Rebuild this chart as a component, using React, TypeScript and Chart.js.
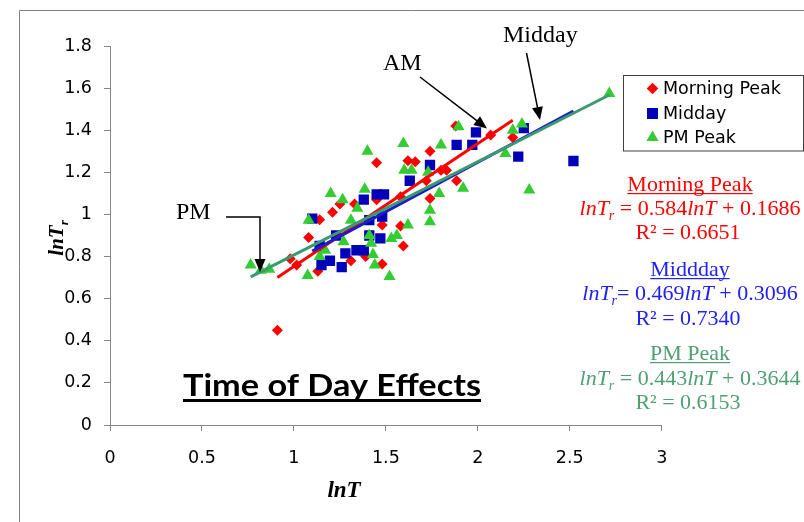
import React, { useEffect, useRef } from "react";
import { Chart, registerables } from "chart.js";
import { drawPoint } from "chart.js/helpers";

Chart.register(...registerables);

// ---- data ----
const morningX = [0.91, 0.98, 1.015, 1.08, 1.13, 1.14, 1.21, 1.25, 1.31, 1.33, 1.39, 1.45, 1.45, 1.48, 1.48, 1.58, 1.58, 1.595, 1.62, 1.66, 1.72, 1.74, 1.74, 1.8, 1.83, 1.885, 1.88, 2.07, 2.19];
const morningY = [0.45, 0.79, 0.76, 0.89, 0.73, 0.975, 1.01, 1.05, 0.78, 1.05, 0.8, 1.245, 1.07, 0.95, 0.765, 1.084, 0.945, 0.85, 1.255, 1.25, 1.16, 1.076, 1.3, 1.21, 1.21, 1.16, 1.42, 1.377, 1.366];

const middayX = [1.1, 1.14, 1.15, 1.196, 1.23, 1.26, 1.28, 1.34, 1.38, 1.38, 1.41, 1.41, 1.45, 1.49, 1.47, 1.48, 1.63, 1.74, 1.885, 1.97, 1.99, 2.22, 2.25, 2.52];
const middayY = [0.98, 0.85, 0.76, 0.78, 0.9, 0.75, 0.815, 0.83, 1.07, 0.83, 0.973, 0.9, 1.095, 1.095, 0.886, 0.99, 1.16, 1.235, 1.33, 1.33, 1.39, 1.275, 1.41, 1.254];

const pmX = [0.765, 0.82, 0.866, 1.075, 1.08, 1.14, 1.17, 1.2, 1.265, 1.27, 1.31, 1.345, 1.385, 1.4, 1.41, 1.42, 1.43, 1.44, 1.52, 1.53, 1.56, 1.595, 1.6, 1.64, 1.62, 1.73, 1.74, 1.74, 1.79, 1.8, 1.895, 1.92, 2.15, 2.19, 2.24, 2.28, 2.715];
const pmY = [0.76, 0.735, 0.74, 0.71, 0.973, 0.8, 0.83, 1.1, 1.07, 0.87, 0.973, 1.03, 1.12, 1.3, 0.9, 0.863, 0.81, 0.76, 0.705, 0.886, 0.9, 1.337, 1.21, 1.21, 0.95, 1.2, 1.02, 0.965, 1.1, 1.33, 1.416, 1.124, 1.29, 1.4, 1.43, 1.116, 1.575];

const seriesNames = ["Morning Peak", "Midday", "PM Peak"];
const eqTitles = ["Morning Peak", "Middday", "PM Peak"];
const trendSlopes = [0.584, 0.469, 0.443];
const trendIntercepts = [0.1686, 0.3096, 0.3644];
const slopeText = ["0.584", "0.469", "0.443"];
const interceptText = ["0.1686", "0.3096", "0.3644"];
const r2Text = ["0.6651", "0.7340", "0.6153"];
const trendXRange = [
  [0.91, 2.19],
  [1.1, 2.52],
  [0.765, 2.715],
];

const X_MIN = 0, X_MAX = 3, X_STEP = 0.5;
const Y_MIN = 0, Y_MAX = 1.8, Y_STEP = 0.2;

// ---- styles ----
const RED = "#ff0000";
const BLUE_PT = "#0000b8";
const GREEN_PT = "#33cc33";
const BLUE_LINE = "#1c1cc8";
const GREEN_LINE = "#3a9a70";
const EQ_COLORS = ["#ff0000", "#2222ee", "#4f9f73"];
const AXIS_GRAY = "#868686";
const SERIF = '"Liberation Serif", "Times New Roman", serif';

const zip = (xs: number[], ys: number[]) => xs.map((x, i) => ({ x, y: ys[i] }));
const trendPts = (i: number) =>
  trendXRange[i].map((x) => ({ x, y: trendSlopes[i] * x + trendIntercepts[i] }));

function drawArrowHead(ctx: CanvasRenderingContext2D, fx: number, fy: number, tx: number, ty: number) {
  const ang = Math.atan2(ty - fy, tx - fx);
  const len = 13, half = 5.5;
  ctx.beginPath();
  ctx.moveTo(tx, ty);
  ctx.lineTo(tx - len * Math.cos(ang) + half * Math.sin(ang), ty - len * Math.sin(ang) - half * Math.cos(ang));
  ctx.lineTo(tx - len * Math.cos(ang) - half * Math.sin(ang), ty - len * Math.sin(ang) + half * Math.cos(ang));
  ctx.closePath();
  ctx.fill();
}

function arrow(ctx: CanvasRenderingContext2D, pts: number[][]) {
  ctx.strokeStyle = "#000";
  ctx.fillStyle = "#000";
  ctx.lineWidth = 1.5;
  ctx.beginPath();
  ctx.moveTo(pts[0][0], pts[0][1]);
  const n = pts.length;
  const [fx, fy] = pts[n - 2];
  const [tx, ty] = pts[n - 1];
  const ang = Math.atan2(ty - fy, tx - fx);
  for (let i = 1; i < n - 1; i++) ctx.lineTo(pts[i][0], pts[i][1]);
  ctx.lineTo(tx - 10 * Math.cos(ang), ty - 10 * Math.sin(ang));
  ctx.stroke();
  drawArrowHead(ctx, fx, fy, tx, ty);
}

type Seg = { t: string; it?: boolean; sub?: boolean; bold?: boolean };

function drawRich(ctx: CanvasRenderingContext2D, segs: Seg[], x: number, baseline: number, size: number, align: "center" | "left") {
  const fontFor = (s: Seg) =>
    `${s.it ? "italic " : ""}${s.bold ? "bold " : ""}${s.sub ? Math.round(size * 0.62) : size}px ${SERIF}`;
  let total = 0;
  segs.forEach((s) => {
    ctx.font = fontFor(s);
    total += ctx.measureText(s.t).width;
  });
  let cx = align === "center" ? x - total / 2 : x;
  ctx.textAlign = "left";
  ctx.textBaseline = "alphabetic";
  segs.forEach((s) => {
    ctx.font = fontFor(s);
    ctx.fillText(s.t, cx, baseline + (s.sub ? size * 0.22 : 0));
    cx += ctx.measureText(s.t).width;
  });
  return total;
}

const overlay = {
  id: "overlay",
  afterDraw(chart: any) {
    const ctx: CanvasRenderingContext2D = chart.ctx;
    ctx.save();

    // outer frame (top + left visible)
    ctx.strokeStyle = "#808080";
    ctx.lineWidth = 1;
    ctx.beginPath();
    ctx.moveTo(19.5, 522);
    ctx.lineTo(19.5, 10.5);
    ctx.lineTo(804, 10.5);
    ctx.stroke();

    // legend
    ctx.strokeStyle = "#404040";
    ctx.lineWidth = 1;
    ctx.strokeRect(623.5, 75.5, 180, 75.5);
    const legendY = [88.5, 113.5, 137.5];
    const pointSets = chart.data.datasets.filter((d: any) => !d.showLine);
    seriesNames.forEach((name, i) => {
      const ds = pointSets.find((d: any) => d.label === name);
      ctx.fillStyle = ds.pointBackgroundColor;
      drawPoint(ctx, { pointStyle: ds.pointStyle, radius: ds.legendRadius, rotation: 0, borderWidth: 0 } as any, 652.5, legendY[i]);
      ctx.fillStyle = "#000";
      ctx.font = '17.5px "DejaVu Sans"';
      ctx.textAlign = "left";
      ctx.textBaseline = "middle";
      ctx.fillText(name, 663, legendY[i] + 1);
    });

    // annotations
    ctx.fillStyle = "#000";
    ctx.font = `24px ${SERIF}`;
    ctx.textAlign = "left";
    ctx.textBaseline = "alphabetic";
    ctx.fillText("Midday", 503, 42);
    ctx.fillText("AM", 383, 70);
    ctx.fillText("PM", 176, 219);
    arrow(ctx, [[526.5, 53], [540, 120]]);
    arrow(ctx, [[420, 77], [487, 128.5]]);
    arrow(ctx, [[226, 217], [260, 217], [260, 272]]);

    // Title
    ctx.save();
    ctx.font = 'bold 31px Lato';
    const tw = ctx.measureText("Time of Day Effects").width;
    const sx = 298 / tw;
    ctx.translate(183, 396);
    ctx.scale(sx, 1);
    ctx.fillStyle = "#000";
    ctx.fillText("Time of Day Effects", 0, 0);
    ctx.restore();
    ctx.fillRect(183, 399, 298, 3);

    // equations
    const base = [
      [191, 215, 239],
      [276, 300, 325],
      [360, 385, 409],
    ];
    const eqs = [" = ", "= ", " = "];
    for (let i = 0; i < 3; i++) {
      const col = EQ_COLORS[i];
      ctx.fillStyle = col;
      ctx.strokeStyle = col;
      const w = drawRich(ctx, [{ t: eqTitles[i] }], 690, base[i][0], 22, "center");
      ctx.fillRect(690 - w / 2, base[i][0] + 2, w, 1.2);
      drawRich(
        ctx,
        [
          { t: "lnT", it: true },
          { t: "r", it: true, sub: true },
          { t: eqs[i] + slopeText[i] },
          { t: "lnT", it: true },
          { t: " + " + interceptText[i] },
        ],
        690,
        base[i][1],
        22,
        "center"
      );
      drawRich(ctx, [{ t: "R\u00B2 = " + r2Text[i] }], 688, base[i][2], 22, "center");
    }

    // axis titles
    ctx.fillStyle = "#000";
    drawRich(ctx, [{ t: "lnT", it: true, bold: true }], 344, 496.5, 23, "center");
    ctx.save();
    ctx.translate(63, 238);
    ctx.rotate(-Math.PI / 2);
    drawRich(ctx, [{ t: "lnT", it: true, bold: true }, { t: "r", it: true, bold: true, sub: true }], 0, 0, 21, "center");
    ctx.restore();

    ctx.restore();
  },
};

export default function App() {
  const ref = useRef<HTMLCanvasElement | null>(null);
  useEffect(() => {
    if (!ref.current) return;
    const fmt = (v: any) => String(Math.round(Number(v) * 10) / 10);
    const tickFont = { family: "DejaVu Sans", size: 17.5 };
    const chart = new Chart(ref.current, {
      type: "scatter",
      data: {
        datasets: [
          { label: "PM trend", data: trendPts(2), showLine: true, borderColor: GREEN_LINE, borderWidth: 3, pointRadius: 0, pointHoverRadius: 0, fill: false },
          { label: "Midday trend", data: trendPts(1), showLine: true, borderColor: BLUE_LINE, borderWidth: 3, pointRadius: 0, pointHoverRadius: 0, fill: false },
          { label: "Morning trend", data: trendPts(0), showLine: true, borderColor: RED, borderWidth: 3, pointRadius: 0, pointHoverRadius: 0, fill: false },
          { label: seriesNames[2], data: zip(pmX, pmY), pointStyle: "triangle", pointRadius: 7, pointBackgroundColor: GREEN_PT, pointBorderWidth: 0, legendRadius: 7 } as any,
          { label: seriesNames[1], data: zip(middayX, middayY), pointStyle: "rect", pointRadius: 7.3, pointBackgroundColor: BLUE_PT, pointBorderWidth: 0, legendRadius: 7.8 } as any,
          { label: seriesNames[0], data: zip(morningX, morningY), pointStyle: "rectRot", pointRadius: 5.5, pointBackgroundColor: RED, pointBorderWidth: 0, legendRadius: 5.8 } as any,
        ],
      },
      options: {
        animation: false,
        responsive: false,
        devicePixelRatio: 1,
        events: [],
        layout: { padding: { left: 0, right: 142.3, top: 46, bottom: 0 } },
        plugins: { legend: { display: false }, tooltip: { enabled: false }, title: { display: false } },
        scales: {
          x: {
            type: "linear",
            min: X_MIN,
            max: X_MAX,
            ticks: { stepSize: X_STEP, font: tickFont, color: "#000", padding: 17, callback: fmt, maxRotation: 0 },
            grid: { drawOnChartArea: false, drawTicks: true, tickLength: 6, color: AXIS_GRAY },
            border: { display: true, color: AXIS_GRAY, width: 1 },
            afterFit: (s: any) => {
              s.height = 97;
            },
          },
          y: {
            type: "linear",
            min: Y_MIN,
            max: Y_MAX,
            ticks: { stepSize: Y_STEP, font: tickFont, color: "#000", padding: 12, callback: fmt },
            grid: { drawOnChartArea: false, drawTicks: true, tickLength: 6, color: AXIS_GRAY },
            border: { display: true, color: AXIS_GRAY, width: 1 },
            afterFit: (s: any) => {
              s.width = 110;
            },
          },
        },
      } as any,
      plugins: [overlay],
    });
    return () => chart.destroy();
  }, []);

  return (
    <div style={{ position: "absolute", left: 0, top: 0, width: 804, height: 522, background: "#fff" }}>
      <canvas ref={ref} width={804} height={522} style={{ display: "block", width: 804, height: 522 }} />
    </div>
  );
}
